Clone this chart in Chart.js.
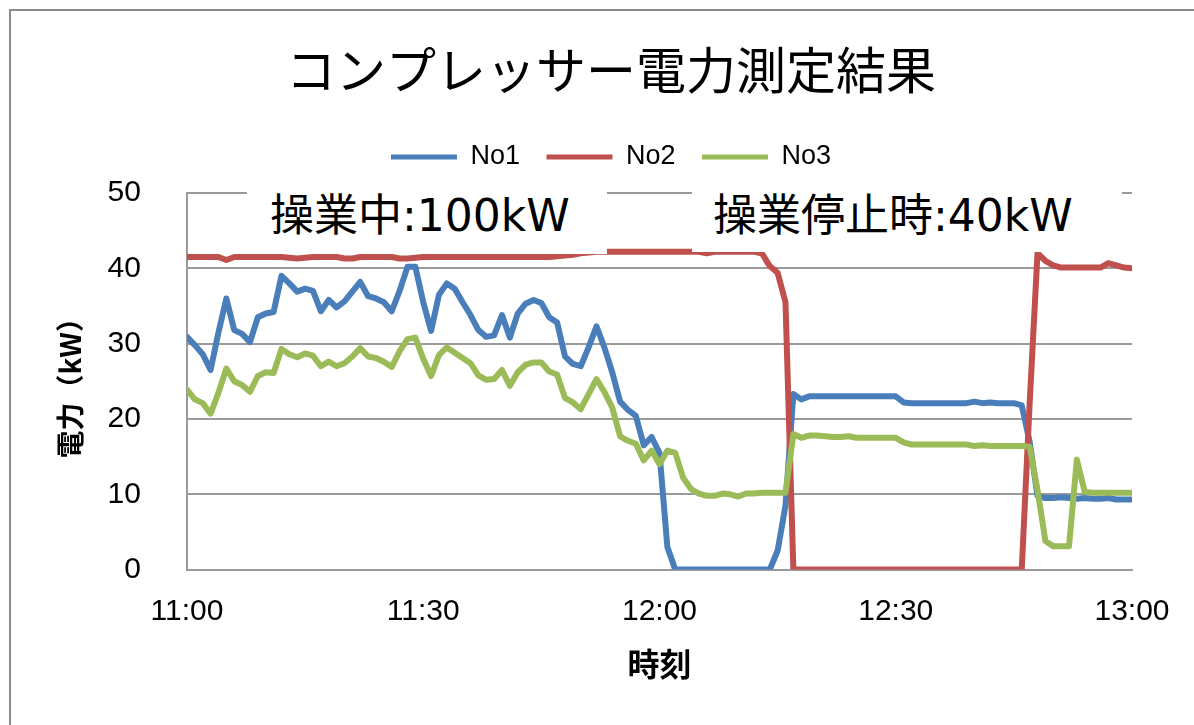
<!DOCTYPE html>
<html lang="ja">
<head>
<meta charset="utf-8">
<title>コンプレッサー電力測定結果</title>
<script src="https://cdn.jsdelivr.net/npm/chart.js@4.4.1/dist/chart.umd.min.js"></script>
<style>
  html, body { margin: 0; padding: 0; background: #fff; overflow: hidden; }
  #frame { position: absolute; left: 9px; top: 9px; width: 1400px; height: 900px; border: 2px solid #8c8c8c; }
  #wrap { position: absolute; left: 0; top: 0; width: 1194px; height: 725px; }
  .note {
    position: absolute; background: #fff; color: #000;
    font-family: "DejaVu Sans", "Noto Sans CJK JP", sans-serif;
    font-size: 44px; line-height: 60px; white-space: nowrap;
  }
</style>
</head>
<body>
<div id="frame"></div>
<div id="wrap"><canvas id="chart"></canvas></div>
<div class="note" style="left:247px; top:186px; width:337px; height:68px; padding-left:23px;">操業中:100kW</div>
<div class="note" style="left:692px; top:186px; width:409px; height:66px; padding-left:21px;">操業停止時:40kW</div>
<script>
// One reading per minute from 11:00 to 13:00 (index = minutes after 11:00), kW
const tickLabels = ['11:00', '11:30', '12:00', '12:30', '13:00'];
const seriesNames = ['No1', 'No2', 'No3'];

const no1 = [
  30.9, 29.8, 28.6, 26.5, 31.5, 36.0, 31.8, 31.3, 30.2, 33.5,
  34.0, 34.2, 39.0, 38.0, 36.9, 37.3, 37.0, 34.3, 35.8, 34.8,
  35.6, 36.9, 38.2, 36.3, 36.0, 35.5, 34.3, 37.0, 40.2, 40.2,
  35.5, 31.7, 36.5, 38.0, 37.3, 35.5, 33.8, 31.8, 30.9, 31.1,
  33.8, 30.8, 34.0, 35.3, 35.8, 35.4, 33.5, 32.8, 28.3, 27.3,
  27.0, 29.5, 32.3, 29.5, 26.2, 22.3, 21.2, 20.4, 16.5, 17.6,
  15.5, 3.0, 0, 0, 0, 0, 0, 0, 0, 0,
  0, 0, 0, 0, 0, 2.5, 8.5, 23.3, 22.6, 23.0,
  23.0, 23.0, 23.0, 23.0, 23.0, 23.0, 23.0, 23.0, 23.0, 23.0,
  23.0, 22.2, 22.1, 22.1, 22.1, 22.1, 22.1, 22.1, 22.1, 22.1,
  22.3, 22.1, 22.2, 22.1, 22.1, 22.1, 21.8, 17.0, 9.8, 9.5,
  9.5, 9.6, 9.5, 9.4, 9.5, 9.4, 9.4, 9.5, 9.3, 9.3,
  9.3
];

const no2 = [
  41.5, 41.5, 41.5, 41.5, 41.5, 41.1, 41.5, 41.5, 41.5, 41.5,
  41.5, 41.5, 41.5, 41.4, 41.3, 41.4, 41.5, 41.5, 41.5, 41.5,
  41.3, 41.3, 41.5, 41.5, 41.5, 41.5, 41.5, 41.3, 41.3, 41.4,
  41.5, 41.5, 41.5, 41.5, 41.5, 41.5, 41.5, 41.5, 41.5, 41.5,
  41.5, 41.5, 41.5, 41.5, 41.5, 41.5, 41.5, 41.6, 41.7, 41.8,
  42.0, 42.1, 42.2, 42.2, 42.2, 42.2, 42.2, 42.2, 42.2, 42.2,
  42.2, 42.2, 42.2, 42.2, 42.2, 42.2, 42.0, 42.2, 42.2, 42.2,
  42.2, 42.2, 42.2, 42.0, 40.3, 39.4, 35.5, 0, 0, 0,
  0, 0, 0, 0, 0, 0, 0, 0, 0, 0,
  0, 0, 0, 0, 0, 0, 0, 0, 0, 0,
  0, 0, 0, 0, 0, 0, 0, 22.0, 42.0, 41.0,
  40.4, 40.1, 40.1, 40.1, 40.1, 40.1, 40.1, 40.7, 40.4, 40.1,
  40.0
];

const no3 = [
  23.9, 22.6, 22.1, 20.7, 23.5, 26.7, 25.0, 24.5, 23.6, 25.7,
  26.2, 26.1, 29.3, 28.6, 28.2, 28.7, 28.4, 27.0, 27.6, 27.0,
  27.4, 28.3, 29.4, 28.3, 28.1, 27.6, 26.9, 29.0, 30.6, 30.8,
  28.0, 25.7, 28.5, 29.5, 28.8, 28.1, 27.4, 25.8, 25.2, 25.3,
  26.5, 24.4, 26.2, 27.2, 27.5, 27.5, 26.3, 25.9, 22.8, 22.2,
  21.3, 23.3, 25.3, 23.6, 21.5, 17.7, 17.1, 16.7, 14.5, 15.8,
  14.0, 15.8, 15.5, 12.2, 10.7, 10.1, 9.8, 9.8, 10.1, 10.0,
  9.7, 10.1, 10.1, 10.2, 10.2, 10.2, 10.2, 18.0, 17.5, 17.8,
  17.8, 17.7, 17.6, 17.6, 17.7, 17.5, 17.5, 17.5, 17.5, 17.5,
  17.5, 16.9, 16.6, 16.6, 16.6, 16.6, 16.6, 16.6, 16.6, 16.6,
  16.4, 16.5, 16.4, 16.4, 16.4, 16.4, 16.4, 16.3, 10.6, 3.8,
  3.1, 3.1, 3.1, 14.6, 10.3, 10.2, 10.2, 10.2, 10.2, 10.2,
  10.2
];

const toPoints = arr => arr.map((v, i) => ({ x: i, y: v }));

// Moves the chart title and legend so their centre sits over the whole frame
const headerNudge = {
  id: 'headerNudge',
  afterLayout(chart) {
    const t = chart.titleBlock;
    const l = chart.legend;
    if (t) { t.left += 18; t.right += 18; }
    if (l) { l.left += 18; l.right += 18; l.top -= 12.5; l.bottom -= 12.5; }
  }
};

const lineStyle = color => ({
  borderColor: color,
  backgroundColor: color,
  borderWidth: 6,
  pointRadius: 0,
  tension: 0,
  fill: false,
  borderJoinStyle: 'round',
  borderCapStyle: 'round'
});

Chart.defaults.color = '#000';

new Chart(document.getElementById('chart'), {
  type: 'line',
  data: {
    datasets: [
      { label: seriesNames[0], data: toPoints(no1), order: 2, ...lineStyle('#4a7ebb') },
      { label: seriesNames[1], data: toPoints(no2), order: 1, ...lineStyle('#c0504d') },
      { label: seriesNames[2], data: toPoints(no3), order: 0, ...lineStyle('#9bbb59') }
    ]
  },
  plugins: [headerNudge],
  options: {
    responsive: true,
    maintainAspectRatio: false,
    animation: false,
    layout: { padding: { left: 54, top: 20, right: 62, bottom: 42 } },
    plugins: {
      title: {
        display: true,
        text: 'コンプレッサー電力測定結果',
        color: '#000',
        font: { family: '"Noto Sans CJK JP"', size: 50, weight: 'normal' },
        padding: { top: 20, bottom: 29.5 }
      },
      legend: {
        display: true,
        position: 'top',
        labels: {
          font: { family: '"Liberation Sans", Arial, sans-serif', size: 27 },
          color: '#000',
          boxWidth: 66,
          boxHeight: 5,
          padding: 26.5,
          sort: (a, b) => a.datasetIndex - b.datasetIndex,
          generateLabels(chart) {
            return Chart.defaults.plugins.legend.labels.generateLabels(chart)
              .map(item => ({ ...item, fillStyle: item.strokeStyle, lineWidth: 0 }));
          }
        }
      },
      tooltip: { enabled: false }
    },
    scales: {
      x: {
        type: 'linear',
        min: 0,
        max: 120,
        grid: { display: false, drawTicks: false },
        border: { display: true, color: '#9a9a9a', width: 2 },
        ticks: {
          stepSize: 30,
          autoSkip: false,
          maxRotation: 0,
          padding: 24,
          color: '#000',
          font: { family: '"Liberation Sans", Arial, sans-serif', size: 30 },
          callback: v => tickLabels[v / 30] ?? ''
        },
        title: {
          display: true,
          text: '時刻',
          color: '#000',
          font: { family: '"Noto Sans CJK JP"', size: 32, weight: 'bold' },
          padding: { top: -9, bottom: 0 }
        }
      },
      y: {
        min: 0,
        max: 50,
        grid: { color: '#9a9a9a', lineWidth: 2, drawTicks: false },
        border: { display: true, color: '#9a9a9a', width: 2 },
        ticks: {
          stepSize: 10,
          padding: 46,
          color: '#000',
          font: { family: '"Liberation Sans", Arial, sans-serif', size: 30 }
        },
        title: {
          display: true,
          text: '電力（kW）',
          color: '#000',
          font: { family: '"Noto Sans CJK JP"', size: 28, weight: 'bold' },
          padding: { top: 0, bottom: -26 }
        }
      }
    }
  }
});
</script>
</body>
</html>
